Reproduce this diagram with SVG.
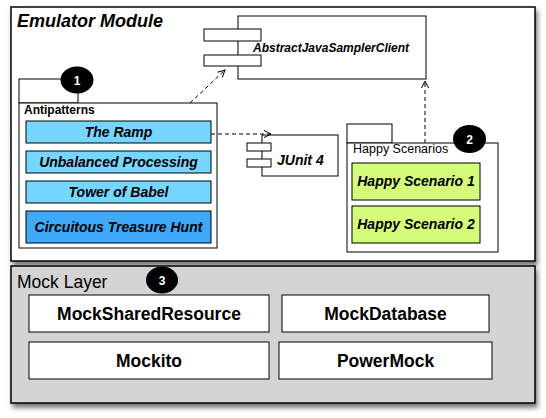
<svg xmlns="http://www.w3.org/2000/svg" width="546" height="418" viewBox="0 0 546 418">
<defs>
<filter id="sh" x="-5%" y="-5%" width="115%" height="120%">
<feDropShadow dx="2" dy="4" stdDeviation="2.5" flood-color="#000" flood-opacity="0.55"/>
</filter>
<marker id="arr" markerWidth="10" markerHeight="10" refX="8" refY="5" orient="auto" markerUnits="userSpaceOnUse">
<path d="M1,1.5 L8,5 L1,8.5" fill="none" stroke="#000" stroke-width="1"/>
</marker>
<style>
.frame{fill:#fff;stroke:#000;stroke-width:1.5}
.box{fill:#fff;stroke:#000;stroke-width:1}
.t{font-family:"Liberation Sans",Arial,sans-serif;fill:#000}
.bi{font-weight:bold;font-style:italic}
.b{font-weight:bold}
.item{stroke:#000;stroke-width:1}
.conn{fill:none;stroke:#000;stroke-width:1;stroke-dasharray:4,3;marker-end:url(#arr)}
.badge{fill:#000}
.bt{font-family:"Liberation Sans",Arial,sans-serif;font-weight:bold;fill:#fff;font-size:12px;text-anchor:middle}
</style>
</defs>

<g id="emulator-module">
<rect class="frame" x="11" y="7" width="524" height="254" filter="url(#sh)"/>
<text class="t bi" x="17" y="27" font-size="18">Emulator Module</text>
</g>

<g id="mock-layer">
<rect x="11" y="266" width="524" height="137" fill="#d4d4d4" stroke="#000" stroke-width="1.5" filter="url(#sh)"/>
<text class="t" x="17" y="288" font-size="17.5">Mock Layer</text>
</g>

<g id="abstract-java-sampler-client">
<rect class="box" x="238" y="16" width="188" height="63"/>
<rect class="box" x="204" y="29" width="57" height="12"/>
<rect class="box" x="204" y="55" width="57" height="11"/>
<text class="t bi" x="253" y="52" font-size="12">AbstractJavaSamplerClient</text>
</g>

<g id="junit4">
<rect class="box" x="262" y="135" width="76" height="41"/>
<rect class="box" x="247" y="143" width="24" height="8"/>
<rect class="box" x="247" y="159" width="24" height="8"/>
<text class="t bi" x="277" y="165" font-size="14">JUnit 4</text>
</g>

<g id="antipatterns">
<rect class="box" x="19" y="79" width="59" height="24"/>
<rect class="box" x="19" y="103" width="198" height="145"/>
<text class="t b" x="24" y="114" font-size="12">Antipatterns</text>
<ellipse class="badge" cx="77" cy="80" rx="16.5" ry="13.5"/>
<text class="bt" x="77" y="84.5">1</text>
</g>

<g id="the-ramp">
<rect class="item" x="26" y="121" width="185" height="22" fill="#76d6ff"/>
<text class="t bi" x="118.5" y="137" font-size="14" text-anchor="middle">The Ramp</text>
</g>
<g id="unbalanced-processing">
<rect class="item" x="26" y="151" width="185" height="22" fill="#76d6ff"/>
<text class="t bi" x="118.5" y="167" font-size="14" text-anchor="middle">Unbalanced Processing</text>
</g>
<g id="tower-of-babel">
<rect class="item" x="26" y="181" width="185" height="22" fill="#76d6ff"/>
<text class="t bi" x="118.5" y="197" font-size="14" text-anchor="middle">Tower of Babel</text>
</g>
<g id="circuitous-treasure-hunt">
<rect class="item" x="26" y="211" width="185" height="32" fill="#3ea8f9"/>
<text class="t bi" x="118.5" y="232" font-size="14" text-anchor="middle">Circuitous Treasure Hunt</text>
</g>

<g id="happy-scenarios">
<rect class="box" x="347" y="124" width="45" height="19"/>
<rect class="box" x="347" y="143" width="151" height="109"/>
<text class="t" x="353" y="153" font-size="12.5">Happy Scenarios</text>
<ellipse class="badge" cx="469.5" cy="139" rx="16.5" ry="14"/>
<text class="bt" x="469.5" y="143.5">2</text>
</g>
<g id="happy-scenario-1">
<rect class="item" x="352" y="163" width="128" height="37" fill="#d4fb79"/>
<text class="t bi" x="416" y="186" font-size="14" text-anchor="middle">Happy Scenario 1</text>
</g>
<g id="happy-scenario-2">
<rect class="item" x="352" y="206" width="128" height="37" fill="#d4fb79"/>
<text class="t bi" x="416" y="229" font-size="14" text-anchor="middle">Happy Scenario 2</text>
</g>

<g id="badge-3">
<ellipse class="badge" cx="162" cy="280" rx="16" ry="13.5"/>
<text class="bt" x="162" y="284.5">3</text>
</g>

<g id="mock-shared-resource">
<rect class="box" x="29" y="295" width="240" height="37"/>
<text class="t b" x="149" y="320" font-size="17.5" text-anchor="middle">MockSharedResource</text>
</g>
<g id="mock-database">
<rect class="box" x="282" y="295" width="207" height="37"/>
<text class="t b" x="385.5" y="320" font-size="17.5" text-anchor="middle">MockDatabase</text>
</g>
<g id="mockito">
<rect class="box" x="29" y="342" width="240" height="37"/>
<text class="t b" x="149" y="367" font-size="17.5" text-anchor="middle">Mockito</text>
</g>
<g id="powermock">
<rect class="box" x="279" y="342" width="213" height="37"/>
<text class="t b" x="385.5" y="367" font-size="17.5" text-anchor="middle">PowerMock</text>
</g>

<g id="connectors">
<path class="conn" d="M190,103 L225,70"/>
<path class="conn" d="M211,134 L271,134"/>
<path class="conn" d="M425,143 L425,81"/>
</g>
</svg>
